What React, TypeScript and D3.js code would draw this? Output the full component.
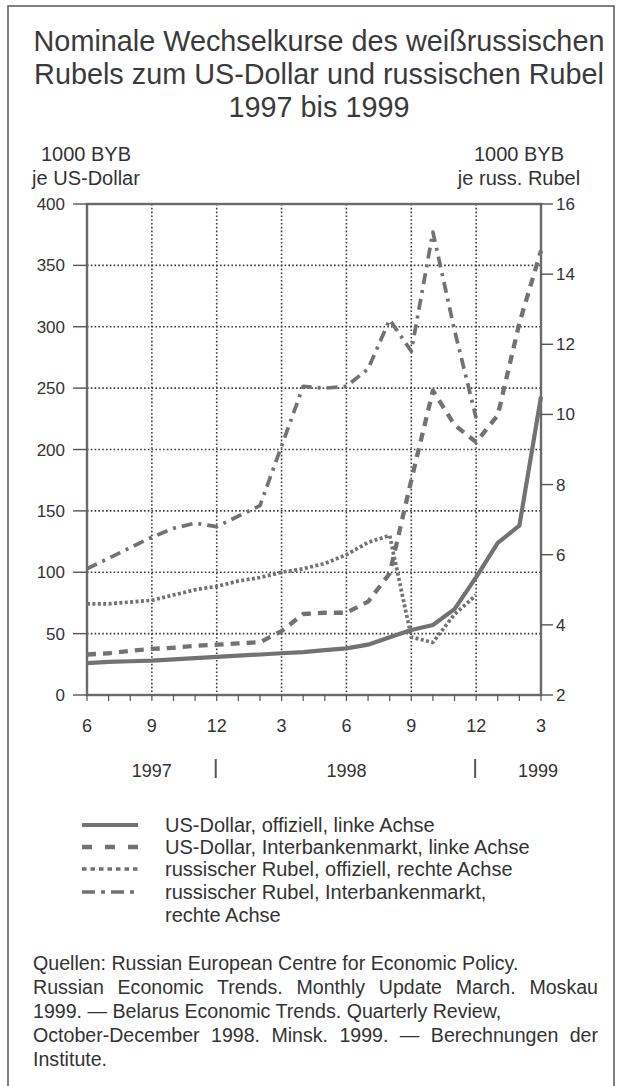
import React, { useEffect, useRef } from "react";
import * as d3 from "d3";

const periods = [
  "1997-06", "1997-07", "1997-08", "1997-09", "1997-10", "1997-11", "1997-12",
  "1998-01", "1998-02", "1998-03", "1998-04", "1998-05", "1998-06", "1998-07",
  "1998-08", "1998-09", "1998-10", "1998-11", "1998-12", "1999-01", "1999-02", "1999-03",
];
const monthTickLabels = ["6", "9", "12", "3", "6", "9", "12", "3"];
const monthTickPeriods = ["1997-06", "1997-09", "1997-12", "1998-03", "1998-06", "1998-09", "1998-12", "1999-03"];
const gridPeriods = ["1997-09", "1997-12", "1998-03", "1998-06", "1998-09", "1998-12"];
const yearLabels = ["1997", "1998", "1999"];
const yearLabelPeriods = ["1997-09", "1998-06", "1999-03"];
const yearSepPeriods = ["1997-12", "1998-12"];

const usdOfficial = [26, 27, 27.5, 28, 29, 30, 31, 32, 33, 34, 35, 36.5, 38, 41, 47, 53, 57, 70, 96, 124, 138, 243];
const usdInterbank = [33, 34, 36, 37.5, 38.5, 40, 41, 42, 43, 52, 66, 67, 67, 76, 99, 175, 248, 220, 206, 228, 303, 362];
const rubOfficial = [4.6, 4.6, 4.65, 4.7, 4.85, 5.0, 5.1, 5.25, 5.35, 5.5, 5.6, 5.75, 6.0, 6.35, 6.55, 3.65, 3.5, 4.3, 4.85];
const rubInterbank = [5.6, 5.9, 6.2, 6.5, 6.75, 6.9, 6.8, 7.1, 7.4, 9.1, 10.8, 10.75, 10.8, 11.3, 12.7, 11.8, 15.2, 12.4, 9.9];

const titleLines = [
  "Nominale Wechselkurse des weißrussischen",
  "Rubels zum US-Dollar und russischen Rubel",
  "1997 bis 1999",
];
const legendLabels = [
  ["US-Dollar, offiziell, linke Achse"],
  ["US-Dollar, Interbankenmarkt, linke Achse"],
  ["russischer Rubel, offiziell, rechte Achse"],
  ["russischer Rubel, Interbankenmarkt,", "rechte Achse"],
];
const sourceLines = [
  { t: "Quellen: Russian European Centre for Economic Policy.", j: false },
  { t: "Russian Economic Trends. Monthly Update March. Moskau", j: true },
  { t: "1999. — Belarus Economic Trends. Quarterly Review,", j: false },
  { t: "October-December 1998. Minsk. 1999. — Berechnungen der", j: true },
  { t: "Institute.", j: false },
];

const W = 627;
const H = 1086;
const FONT = "'Liberation Sans', Arial, Helvetica, sans-serif";
const TEXT = "#333";
const LINE = "#727272";

export default function App() {
  const ref = useRef<SVGSVGElement | null>(null);

  useEffect(() => {
    const svg = d3.select(ref.current);
    svg.selectAll("*").remove();

    const L = 87, R = 541, T = 204, B = 695;
    const x = d3.scalePoint<string>().domain(periods).range([L, R]);
    const yL = d3.scaleLinear().domain([0, 400]).range([B, T]);
    const yR = d3.scaleLinear().domain([2, 16]).range([B, T]);

    svg.append("rect").attr("width", W).attr("height", H).attr("fill", "#fff");
    svg.append("rect").attr("x", 8).attr("y", 6).attr("width", 606).attr("height", 1090)
      .attr("fill", "none").attr("stroke", "#555").attr("stroke-width", 1.5);

    // title
    const tg = svg.append("g").attr("font-family", FONT).attr("fill", "#3a3a3a").attr("font-size", 28.8).attr("text-anchor", "middle");
    titleLines.forEach((t, i) => tg.append("text").attr("x", 319).attr("y", 51 + i * 33).text(t));

    // axis unit labels
    const ug = svg.append("g").attr("font-family", FONT).attr("fill", TEXT).attr("font-size", 20).attr("text-anchor", "middle");
    ug.append("text").attr("x", 86).attr("y", 161).text("1000 BYB");
    ug.append("text").attr("x", 86).attr("y", 185).text("je US-Dollar");
    ug.append("text").attr("x", 519).attr("y", 161).text("1000 BYB");
    ug.append("text").attr("x", 519).attr("y", 185).text("je russ. Rubel");

    // grid
    const grid = svg.append("g").attr("stroke", "#3d3b45").attr("stroke-width", 1.6).attr("stroke-dasharray", "1.6,2.2");
    yL.ticks(8).filter((v) => v > 0 && v < 400).forEach((v) => {
      grid.append("line").attr("x1", L).attr("x2", R).attr("y1", yL(v)).attr("y2", yL(v));
    });
    gridPeriods.forEach((p) => {
      grid.append("line").attr("x1", x(p)!).attr("x2", x(p)!).attr("y1", T).attr("y2", B);
    });

    // frame of plot
    const ax = svg.append("g").attr("stroke", "#6a6a6a").attr("stroke-width", 2.4).attr("fill", "none");
    ax.append("rect").attr("x", L).attr("y", T).attr("width", R - L).attr("height", B - T);

    // ticks and labels
    const lt = svg.append("g");
    yL.ticks(8).forEach((v) => {
      lt.append("line").attr("x1", 73).attr("x2", L).attr("y1", yL(v)).attr("y2", yL(v)).attr("stroke", "#555").attr("stroke-width", 1.4);
      lt.append("text").attr("x", 65).attr("y", yL(v) + 6).attr("text-anchor", "end")
        .attr("font-family", FONT).attr("font-size", 17).attr("fill", TEXT).text(String(v));
    });
    yR.ticks(7).forEach((v) => {
      lt.append("line").attr("x1", R).attr("x2", 553).attr("y1", yR(v)).attr("y2", yR(v)).attr("stroke", "#555").attr("stroke-width", 1.4);
      lt.append("text").attr("x", 556).attr("y", yR(v) + 6).attr("text-anchor", "start")
        .attr("font-family", FONT).attr("font-size", 17).attr("fill", TEXT).text(String(v));
    });
    periods.forEach((p) => {
      lt.append("line").attr("x1", x(p)!).attr("x2", x(p)!).attr("y1", B).attr("y2", B + 6).attr("stroke", "#555").attr("stroke-width", 1.2);
    });
    monthTickPeriods.forEach((p, i) => {
      lt.append("text").attr("x", x(p)!).attr("y", 732).attr("text-anchor", "middle")
        .attr("font-family", FONT).attr("font-size", 18).attr("fill", TEXT).text(monthTickLabels[i]);
    });
    yearLabelPeriods.forEach((p, i) => {
      lt.append("text").attr("x", x(p)! - (i === 2 ? 3 : 0)).attr("y", 777).attr("text-anchor", "middle")
        .attr("font-family", FONT).attr("font-size", 18).attr("fill", TEXT).text(yearLabels[i]);
    });
    yearSepPeriods.forEach((p) => {
      lt.append("line").attr("x1", x(p)! - 1).attr("x2", x(p)! - 1).attr("y1", 759).attr("y2", 778).attr("stroke", "#555").attr("stroke-width", 2);
    });

    // series
    const styles = [
      { w: 4.2, dash: null as string | null },
      { w: 4.3, dash: "9,7" },
      { w: 3.7, dash: "3,2.4" },
      { w: 3.7, dash: "11,6,3,6" },
    ];
    const series = [
      { vals: usdOfficial, y: yL },
      { vals: usdInterbank, y: yL },
      { vals: rubOfficial, y: yR },
      { vals: rubInterbank, y: yR },
    ];
    const sg = svg.append("g").attr("fill", "none").attr("stroke", LINE).attr("stroke-linejoin", "round");
    series.forEach((s, i) => {
      const line = d3.line<number>().x((_, k) => x(periods[k])!).y((v) => s.y(v));
      const path = sg.append("path").attr("d", line(s.vals)).attr("stroke-width", styles[i].w);
      if (styles[i].dash) path.attr("stroke-dasharray", styles[i].dash!);
    });

    // legend
    const lg = svg.append("g");
    const rowY = [825, 847, 869, 892];
    legendLabels.forEach((lines, i) => {
      const st = styles[i];
      const ln = lg.append("line").attr("x1", 82).attr("x2", 138).attr("y1", rowY[i]).attr("y2", rowY[i])
        .attr("stroke", LINE).attr("stroke-width", st.w);
      if (i === 1) ln.attr("stroke-dasharray", "10,13");
      if (i === 2) ln.attr("stroke-dasharray", "4.5,4");
      if (i === 3) ln.attr("stroke-dasharray", "13,6,4,6");
      lines.forEach((t, k) => {
        lg.append("text").attr("x", 165).attr("y", rowY[i] + 7 + k * 23).attr("font-family", FONT)
          .attr("font-size", 20).attr("fill", TEXT).text(t);
      });
    });

    // sources
    const srcG = svg.append("g").attr("font-family", FONT).attr("font-size", 19.6).attr("fill", TEXT);
    sourceLines.forEach((s, i) => {
      const el = srcG.append("text").attr("x", 33).attr("y", 970 + i * 24).text(s.t);
      if (s.j) {
        const node = el.node() as SVGTextElement;
        const len = node.getComputedTextLength();
        const spaces = (s.t.match(/ /g) || []).length;
        const target = 598 - 33;
        if (spaces > 0 && len < target) el.attr("word-spacing", (target - len) / spaces);
        else if (len > target) el.attr("textLength", target).attr("lengthAdjust", "spacingAndGlyphs");
      }
    });
  }, []);

  return (
    <svg ref={ref} width={W} height={H} style={{ position: "absolute", left: 0, top: 0, display: "block" }} />
  );
}
